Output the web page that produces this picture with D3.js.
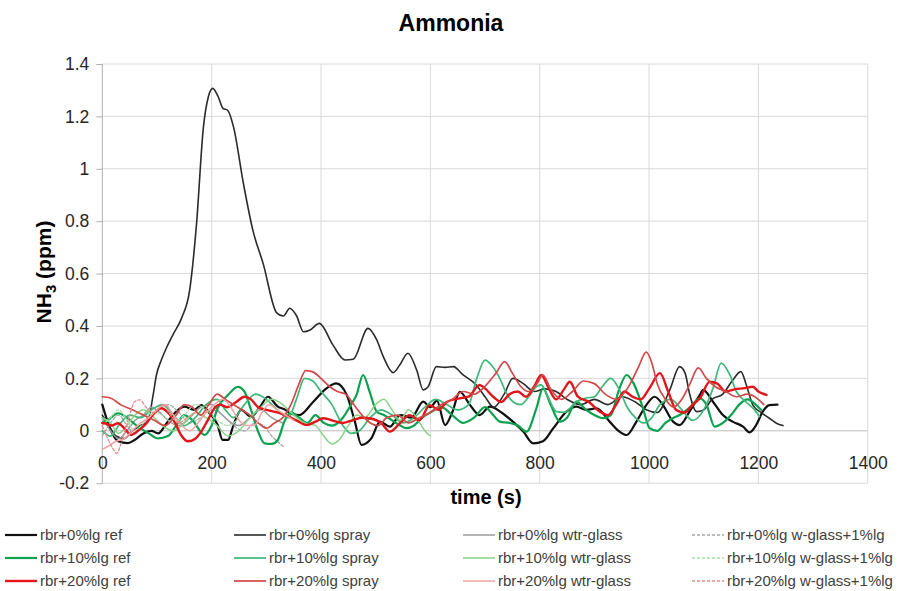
<!DOCTYPE html>
<html>
<head>
<meta charset="utf-8">
<script src="https://cdn.jsdelivr.net/npm/d3@7"></script>
<style>
  body { margin: 0; background: #fff; }
  svg { display: block; font-family: "Liberation Sans", Arial, sans-serif; }
</style>
</head>
<body>
<svg id="chart" width="901" height="591"></svg>
<script>
// Axis ticks
const xTicks = [0, 200, 400, 600, 800, 1000, 1200, 1400];
const yTicks = [-0.2, 0, 0.2, 0.4, 0.6, 0.8, 1.0, 1.2, 1.4];
const yTickLabels = ["-0.2", "0", "0.2", "0.4", "0.6", "0.8", "1", "1.2", "1.4"];

// NH3 readings, [time (s), ppm]
const ref0 = [[0,0.10],[16,0.0],[29,-0.04],[47,-0.047],[59,-0.035],[75,-0.01],[90,0.0],[102,-0.01],[118,0.03],[132,0.067],[150,0.092],[168,0.08],[181,0.098],[195,0.07],[211,0.022],[220,-0.035],[230,-0.035],[239,0.016],[254,0.08],[272,0.054],[288,0.09],[303,0.13],[321,0.092],[335,0.08],[343,0.067],[360,0.06],[386,0.111],[410,0.162],[428,0.181],[447,0.137],[462,0.035],[474,-0.054],[492,-0.029],[508,0.035],[526,0.016],[545,0.06],[565,0.05],[587,0.111],[600,0.09],[612,0.115],[627,0.022],[640,0.07],[654,0.149],[672,0.1],[690,0.06],[709,0.092],[730,0.07],[751,0.035],[770,-0.003],[788,-0.048],[806,-0.04],[825,0.01],[849,0.073],[867,0.092],[885,0.08],[904,0.086],[928,0.035],[946,-0.003],[959,-0.016],[977,0.035],[995,0.098],[1010,0.13],[1025,0.1],[1044,0.035],[1056,0.022],[1074,0.073],[1093,0.137],[1099,0.156],[1117,0.111],[1135,0.06],[1153,0.035],[1172,0.016],[1184,-0.006],[1196,0.022],[1208,0.073],[1220,0.098],[1235,0.1]];
const spray0 = [[0,0.06],[12,0.02],[25,-0.02],[40,-0.03],[55,0.0],[70,0.02],[83,0.035],[93,0.137],[99,0.213],[108,0.27],[118,0.32],[130,0.37],[145,0.43],[160,0.54],[172,0.78],[185,1.16],[194,1.275],[202,1.307],[212,1.275],[221,1.23],[229,1.224],[240,1.16],[258,0.945],[276,0.76],[294,0.64],[319,0.45],[331,0.438],[343,0.468],[355,0.44],[368,0.378],[380,0.385],[397,0.41],[422,0.327],[444,0.27],[459,0.273],[486,0.391],[502,0.347],[514,0.283],[532,0.222],[544,0.251],[559,0.296],[575,0.232],[587,0.156],[596,0.168],[611,0.245],[627,0.242],[642,0.245],[660,0.213],[684,0.175],[700,0.13],[716,0.09],[735,0.14],[751,0.2],[770,0.18],[790,0.15],[810,0.16],[830,0.15],[850,0.12],[875,0.1],[900,0.12],[925,0.1],[950,0.13],[975,0.11],[995,0.08],[1015,0.07],[1038,0.156],[1056,0.245],[1066,0.22],[1074,0.143],[1087,0.073],[1100,0.08],[1115,0.12],[1135,0.14],[1152,0.19],[1168,0.226],[1178,0.175],[1190,0.098],[1205,0.07],[1220,0.048],[1233,0.029],[1245,0.02]];
const wtr0 = [[0,0.05],[15,0.0],[30,-0.03],[45,0.0],[60,0.04],[75,0.06],[90,0.09],[105,0.07],[120,0.04],[140,0.02],[160,0.05],[180,0.09],[200,0.1],[215,0.07],[230,0.04],[250,0.02],[270,0.05],[290,0.08],[310,0.05],[330,0.03]];
const wg0 = [[0,-0.02],[15,0.03],[30,0.06],[45,0.02],[60,-0.01],[80,0.04],[100,0.08],[120,0.1],[140,0.07],[160,0.03],[180,0.05],[200,0.08],[220,0.06],[240,0.02],[260,0.0],[280,0.03],[295,0.02],[310,-0.02],[320,-0.04],[331,-0.06]];
const ref10 = [[0,0.03],[10,0.041],[29,0.067],[45,0.05],[65,0.016],[85,-0.01],[102,-0.029],[120,-0.02],[135,0.02],[150,0.06],[165,0.04],[187,-0.016],[200,0.02],[211,0.086],[230,0.137],[248,0.168],[260,0.15],[272,0.08],[285,-0.003],[297,-0.048],[310,-0.05],[321,-0.035],[333,0.035],[345,0.07],[360,0.05],[375,0.03],[390,0.06],[405,0.03],[420,0.02],[440,0.05],[455,0.1],[465,0.137],[477,0.213],[489,0.149],[502,0.073],[515,0.06],[530,0.04],[545,0.02],[556,0.01],[570,0.02],[585,0.05],[600,0.07],[620,0.09],[640,0.06],[660,0.03],[680,0.05],[700,0.09],[715,0.06],[727,0.035],[745,0.03],[760,0.02],[776,-0.003],[794,0.086],[806,0.162],[820,0.1],[837,0.035],[850,0.05],[867,0.111],[885,0.08],[900,0.06],[916,0.048],[930,0.06],[946,0.162],[959,0.213],[972,0.18],[989,0.086],[1001,0.01],[1015,0.0],[1030,0.03],[1045,0.05],[1056,0.06],[1075,0.09],[1093,0.124],[1105,0.1],[1120,0.016],[1135,0.03],[1150,0.06],[1165,0.1],[1180,0.12],[1195,0.1],[1205,0.08]];
const spray10 = [[0,0.0],[15,-0.02],[30,0.02],[50,0.06],[70,0.05],[90,0.08],[110,0.1],[130,0.06],[150,0.02],[170,0.05],[190,0.1],[210,0.12],[225,0.08],[240,0.05],[260,0.1],[280,0.14],[300,0.12],[320,0.08],[340,0.05],[355,0.12],[370,0.2],[385,0.19],[400,0.15],[420,0.1],[440,0.02],[455,-0.01],[470,0.0],[490,0.05],[510,0.08],[530,0.06],[550,0.03],[570,0.05],[590,0.09],[610,0.12],[630,0.1],[650,0.08],[670,0.1],[685,0.2],[700,0.27],[712,0.25],[727,0.2],[740,0.14],[751,0.111],[765,0.1],[780,0.13],[795,0.17],[803,0.175],[815,0.13],[831,0.073],[845,0.07],[867,0.111],[885,0.125],[900,0.13],[915,0.17],[930,0.2],[945,0.16],[960,0.09],[975,0.05],[990,0.03],[1005,0.05],[1020,0.1],[1040,0.12],[1060,0.08],[1080,0.04],[1100,0.08],[1117,0.162],[1132,0.258],[1148,0.213],[1160,0.149],[1172,0.12],[1184,0.098],[1195,0.075],[1202,0.054]];
const wtr10 = [[0,0.05],[15,0.03],[30,-0.01],[45,0.02],[60,0.06],[75,0.08],[95,0.05],[110,0.02],[130,0.0],[150,0.03],[170,0.07],[190,0.05],[210,0.02],[230,-0.02],[250,0.0],[270,0.05],[290,0.09],[310,0.12],[330,0.1],[350,0.06],[370,0.03],[390,0.02],[405,-0.02],[420,-0.05],[435,-0.03],[450,0.02],[465,0.06],[480,0.05],[500,0.1],[515,0.12],[530,0.08],[545,0.04],[560,0.08],[575,0.05],[590,0.0],[600,-0.02]];
const wg10 = [[0,0.02],[15,0.05],[30,0.08],[45,0.04],[60,0.0],[75,0.03],[90,0.07],[110,0.06],[130,0.03],[150,0.06],[170,0.1],[190,0.08],[210,0.04],[230,0.02],[250,0.05]];
const ref20 = [[0,0.03],[4,0.029],[17,0.02],[29,0.029],[40,0.01],[53,-0.016],[65,0.0],[78,0.022],[92,0.06],[108,0.086],[120,0.07],[132,0.035],[144,-0.016],[157,-0.04],[170,-0.03],[181,-0.003],[193,0.041],[205,0.086],[215,0.1],[228,0.09],[245,0.11],[260,0.13],[272,0.12],[285,0.09],[300,0.08],[320,0.07],[340,0.055],[355,0.04],[374,0.022],[390,0.035],[404,0.048],[420,0.04],[440,0.03],[459,0.041],[475,0.05],[495,0.045],[510,0.03],[526,-0.003],[545,0.03],[562,0.06],[580,0.04],[599,0.098],[615,0.08],[630,0.11],[654,0.124],[670,0.13],[690,0.175],[700,0.162],[715,0.13],[730,0.11],[745,0.14],[760,0.15],[775,0.13],[790,0.17],[803,0.213],[815,0.17],[830,0.12],[845,0.16],[855,0.187],[870,0.13],[890,0.11],[910,0.073],[925,0.06],[940,0.1],[955,0.15],[970,0.13],[985,0.12],[1000,0.16],[1020,0.22],[1035,0.15],[1050,0.079],[1065,0.07],[1080,0.1],[1093,0.124],[1111,0.187],[1125,0.18],[1140,0.15],[1160,0.16],[1172,0.162],[1190,0.168],[1200,0.15],[1215,0.137]];
const spray20 = [[0,0.13],[15,0.125],[35,0.098],[55,0.08],[75,0.06],[95,0.04],[115,0.02],[135,0.06],[150,0.1],[165,0.09],[180,0.06],[195,0.1],[210,0.14],[225,0.12],[240,0.1],[255,0.08],[270,0.06],[285,0.03],[300,0.01],[315,0.03],[330,0.05],[345,0.1],[360,0.18],[372,0.23],[385,0.225],[400,0.2],[415,0.17],[430,0.15],[445,0.14],[460,0.1],[475,0.06],[490,0.03],[505,0.02],[520,0.05],[540,0.06],[560,0.03],[580,0.05],[600,0.07],[620,0.1],[640,0.12],[660,0.15],[680,0.14],[700,0.17],[720,0.22],[736,0.264],[750,0.22],[765,0.17],[780,0.15],[795,0.18],[806,0.213],[820,0.16],[840,0.12],[860,0.15],[880,0.19],[900,0.18],[920,0.14],[940,0.12],[960,0.16],[980,0.24],[995,0.3],[1005,0.26],[1015,0.18],[1030,0.12],[1045,0.09],[1060,0.12],[1075,0.18],[1090,0.24],[1105,0.2],[1120,0.17],[1140,0.15],[1160,0.13],[1180,0.14],[1200,0.12],[1210,0.1]];
const wtr20 = [[0,-0.07],[10,-0.06],[25,-0.04],[40,-0.03],[55,0.0],[70,0.03],[85,0.05],[100,0.08],[115,0.1],[130,0.06],[145,0.02],[160,0.0],[175,0.03],[190,0.07],[205,0.1],[220,0.12],[235,0.09],[250,0.04],[265,0.02],[279,0.022],[292,0.07],[305,0.1],[320,0.08],[335,0.06],[350,0.04]];
const wg20 = [[0,0.02],[10,-0.03],[20,-0.07],[26,-0.086],[38,-0.022],[50,0.06],[59,0.111],[69,0.118],[80,0.09],[95,0.07],[110,0.1],[125,0.06],[140,0.03],[155,0.05],[170,0.07]];

const seriesNames = [
  "rbr+0%lg ref", "rbr+0%lg spray", "rbr+0%lg wtr-glass", "rbr+0%lg w-glass+1%lg",
  "rbr+10%lg ref", "rbr+10%lg spray", "rbr+10%lg wtr-glass", "rbr+10%lg w-glass+1%lg",
  "rbr+20%lg ref", "rbr+20%lg spray", "rbr+20%lg wtr-glass", "rbr+20%lg w-glass+1%lg"
];
const seriesData = [ref0, spray0, wtr0, wg0, ref10, spray10, wtr10, wg10, ref20, spray20, wtr20, wg20];

// Line styles per series
const styles = [
  { color: "#111111", width: 2.2, dash: null },
  { color: "#2b2b2b", width: 1.6, dash: null },
  { color: "#9a9a9a", width: 1.5, dash: null },
  { color: "#a6a6a6", width: 1.3, dash: "3,2" },
  { color: "#0aa24e", width: 2.2, dash: null },
  { color: "#3cb878", width: 1.7, dash: null },
  { color: "#86d486", width: 1.5, dash: null },
  { color: "#a9dfa9", width: 1.3, dash: "3,2" },
  { color: "#e3151b", width: 2.4, dash: null },
  { color: "#d34848", width: 1.7, dash: null },
  { color: "#f0a3a3", width: 1.5, dash: null },
  { color: "#e68a8a", width: 1.3, dash: "3,2" }
];

const svg = d3.select("#chart");
svg.append("rect").attr("width", 901).attr("height", 591).attr("fill", "#fff");

const x = d3.scaleLinear().domain([0, 1400]).range([102.3, 867.7]);
const y = d3.scaleLinear().domain([-0.2, 1.4]).range([483.2, 64]);

// Gridlines
const grid = svg.append("g");
grid.selectAll("line.h").data(yTicks).join("line")
  .attr("x1", x(0)).attr("x2", x(1400))
  .attr("y1", d => y(d)).attr("y2", d => y(d))
  .attr("stroke", d => d === 0 ? "#bdbdbd" : "#d9d9d9").attr("stroke-width", 1);
grid.selectAll("line.v").data(xTicks).join("line")
  .attr("x1", d => x(d)).attr("x2", d => x(d))
  .attr("y1", y(1.4)).attr("y2", y(-0.2))
  .attr("stroke", d => d === 0 ? "#b0b0b0" : "#d9d9d9").attr("stroke-width", 1);

// Y axis with outward ticks
const yAxis = d3.axisLeft(y).tickValues(yTicks).tickSize(6)
  .tickFormat((d, i) => yTickLabels[i]);
const gy = svg.append("g").attr("transform", `translate(${x(0)},0)`).call(yAxis);
gy.select(".domain").remove();
gy.selectAll(".tick line").attr("stroke", "#b0b0b0");
gy.selectAll(".tick text").attr("x", -13).attr("fill", "#262626")
  .style("font-size", "17.5px").style("font-family", "'Liberation Sans', Arial, sans-serif");

// X tick labels sit just above the bottom edge of the plot
const xAxis = d3.axisBottom(x).tickValues(xTicks).tickSize(0).tickFormat(d3.format("d"));
const gx = svg.append("g").attr("transform", `translate(0,${y(0)})`).call(xAxis);
gx.select(".domain").remove();
gx.selectAll(".tick text").attr("y", 26).attr("fill", "#262626")
  .style("font-size", "17.5px").style("font-family", "'Liberation Sans', Arial, sans-serif");

// Series lines
const line = d3.line().x(d => x(d[0])).y(d => y(d[1])).curve(d3.curveMonotoneX);
svg.append("g").selectAll("path").data(seriesData).join("path")
  .attr("d", d => line(d))
  .attr("fill", "none")
  .attr("stroke", (d, i) => styles[i].color)
  .attr("stroke-width", (d, i) => styles[i].width)
  .attr("stroke-dasharray", (d, i) => styles[i].dash)
  .attr("stroke-linejoin", "round")
  .attr("stroke-linecap", "round");

// Titles
svg.append("text").attr("x", 451).attr("y", 31).attr("text-anchor", "middle")
  .style("font-size", "23px").style("font-weight", "bold").attr("fill", "#000")
  .text("Ammonia");
svg.append("text").attr("x", 486).attr("y", 504).attr("text-anchor", "middle")
  .style("font-size", "20px").style("font-weight", "bold").attr("fill", "#000")
  .text("time (s)");
const yl = svg.append("text")
  .attr("transform", "translate(51,272) rotate(-90)")
  .attr("text-anchor", "middle")
  .style("font-size", "21px").style("font-weight", "bold").attr("fill", "#000");
yl.append("tspan").text("NH");
yl.append("tspan").attr("dy", 5).style("font-size", "15px").text("3");
yl.append("tspan").attr("dy", -5).text(" (ppm)");

// Legend: three rows by four columns
const legendCols = [5, 234, 463, 692];
const legendRows = [535, 558, 581];
const legend = svg.append("g");
seriesNames.forEach((name, i) => {
  const col = i % 4, row = Math.floor(i / 4);
  const lx = legendCols[col], ly = legendRows[row];
  legend.append("line")
    .attr("x1", lx).attr("x2", lx + 32).attr("y1", ly).attr("y2", ly)
    .attr("stroke", styles[i].color)
    .attr("stroke-width", styles[i].width)
    .attr("stroke-dasharray", styles[i].dash);
  legend.append("text")
    .attr("x", lx + 35).attr("y", ly).attr("dy", "0.35em")
    .style("font-size", "15px").attr("fill", "#404040")
    .text(name);
});
</script>
</body>
</html>
